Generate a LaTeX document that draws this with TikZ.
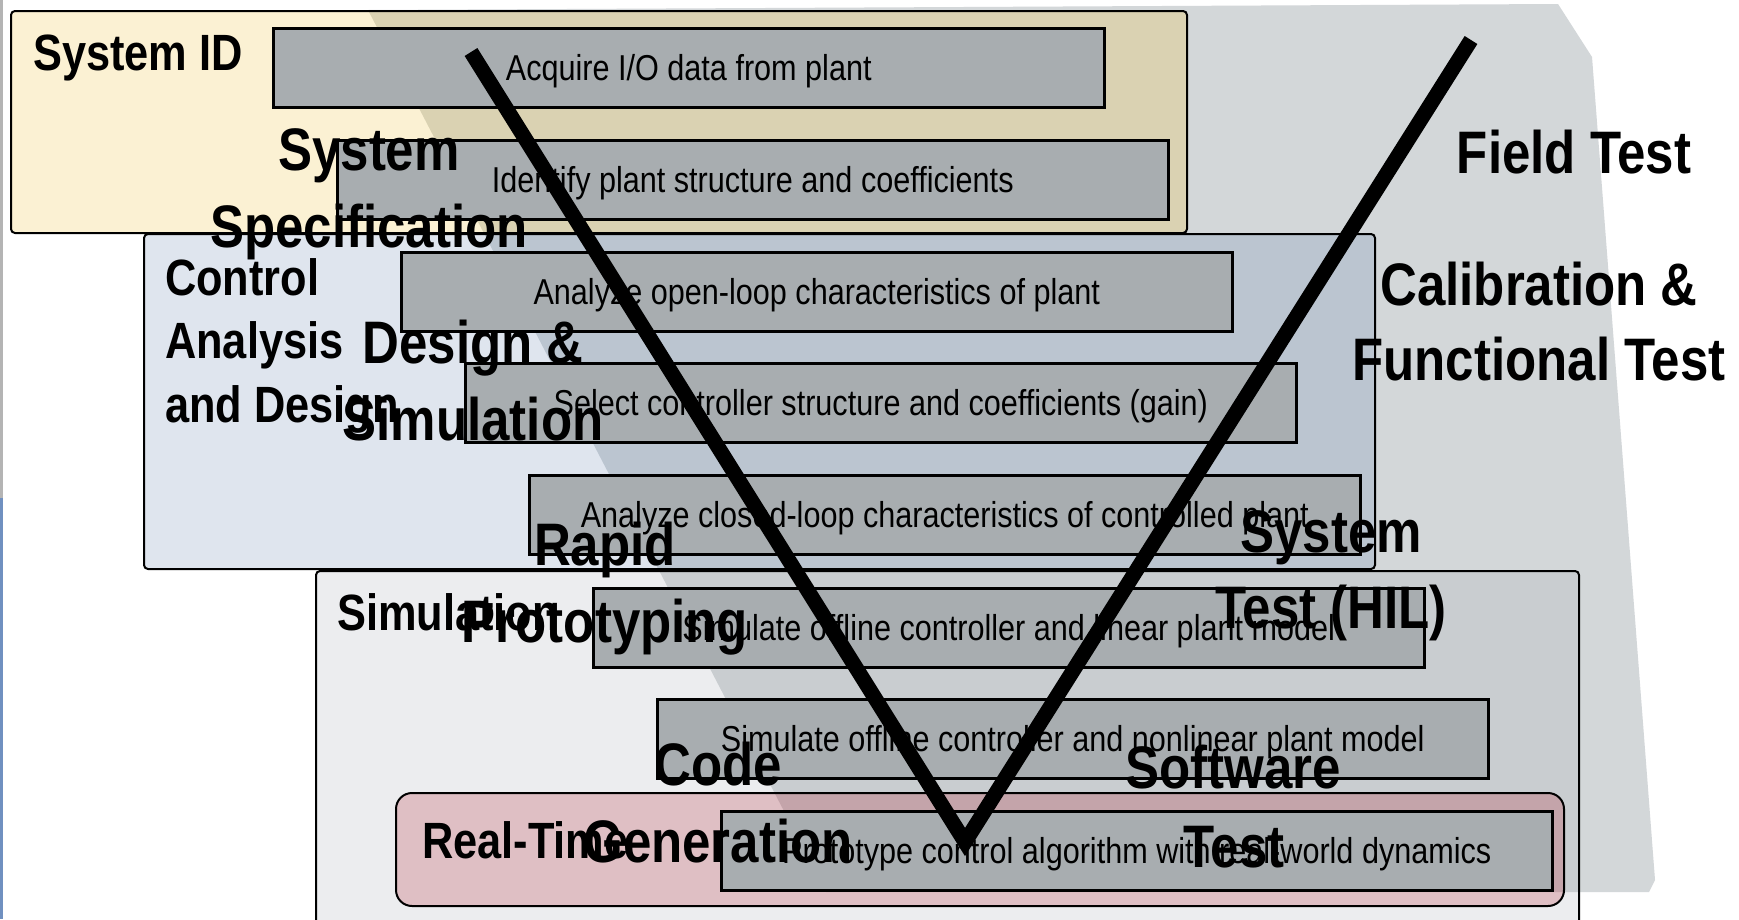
\documentclass[tikz,border=0pt]{standalone}
\usepackage{fontspec}
\setmainfont{Liberation Sans}[FakeStretch=0.85]
\definecolor{polyc}{HTML}{D3D7D9}
\definecolor{yel}{HTML}{FBF1D3}
\definecolor{yelD}{HTML}{DAD2B2}
\definecolor{blu}{HTML}{DFE5EE}
\definecolor{bluD}{HTML}{BBC5D0}
\definecolor{sim}{HTML}{ECEDEF}
\definecolor{simD}{HTML}{C9CDD0}
\definecolor{pnk}{HTML}{DFBFC4}
\definecolor{pnkD}{HTML}{C4A4AA}
\definecolor{taskc}{HTML}{A8ADB0}
\definecolor{edgegray}{HTML}{B4B4B4}
\definecolor{edgeblue}{HTML}{7090C0}
\begin{document}
\begin{tikzpicture}[x=1pt,y=-1pt,
  task/.style={draw=black, line width=2.5pt, fill=taskc, anchor=north west,
    minimum width=831pt, minimum height=79pt, inner sep=0pt,
    text height=25pt, text depth=0pt, font=\fontsize{36}{40}\selectfont},
  seclab/.style={anchor=base west, inner sep=0pt, font=\fontsize{51}{60}\selectfont\bfseries},
  vlab/.style={anchor=base, inner sep=0pt, font=\fontsize{60}{72}\selectfont\bfseries},
  secborder/.style={draw=black, line width=2pt}]
\useasboundingbox (0,0) rectangle (1739,919);
\fill[white] (0,0) rectangle (1739,919);
\def\vpoly{(368,10) -- (1558,4) -- (1592,57) -- (1655,880) -- (1649,892) -- (826,892) -- cycle}
% left screen edge
\draw[line width=2.5pt, edgegray] (1.25,0) -- (1.25,498);
\draw[line width=2.5pt, edgeblue] (1.25,498) -- (1.25,919);
% background gray shape
\fill[polyc] \vpoly;
% System ID box
\fill[yel, rounded corners=4pt] (11,11) rectangle (1187,233);
\begin{scope}\clip[rounded corners=4pt] (11,11) rectangle (1187,233); \fill[yelD] \vpoly; \end{scope}
\draw[secborder, rounded corners=4pt] (11,11) rectangle (1187,233);
% Control analysis box
\fill[blu, rounded corners=4pt] (144,234) rectangle (1375,569);
\begin{scope}\clip[rounded corners=4pt] (144,234) rectangle (1375,569); \fill[bluD] \vpoly; \end{scope}
\draw[secborder, rounded corners=4pt] (144,234) rectangle (1375,569);
% Simulation box
\fill[sim, rounded corners=4pt] (316,571) rectangle (1579,930);
\begin{scope}\clip[rounded corners=4pt] (316,571) rectangle (1579,930); \fill[simD] \vpoly; \end{scope}
\draw[secborder, rounded corners=4pt] (316,571) rectangle (1579,930);
% Real-time box
\fill[pnk, rounded corners=16pt] (396,793) rectangle (1564,906);
\begin{scope}\clip[rounded corners=16pt] (396,793) rectangle (1564,906); \fill[pnkD] \vpoly; \end{scope}
\draw[secborder, rounded corners=16pt] (396,793) rectangle (1564,906);
% task boxes
\node[task] (t1) at (272,27) {Acquire I/O data from plant};
\node[task] (t2) at (336,139) {Identify plant structure and coefficients};
\node[task] (t3) at (400,251) {Analyze open-loop characteristics of plant};
\node[task] (t4) at (464,362) {Select controller structure and coefficients (gain)};
\node[task] (t5) at (528,474) {Analyze closed-loop characteristics of controlled plant};
\node[task] (t6) at (592,587) {Simulate offline controller and linear plant model};
\node[task] (t7) at (656,698) {Simulate offline controller and nonlinear plant model};
\node[task] (t8) at (720,810) {Prototype control algorithm with real-world dynamics};
% section labels
\node[seclab] (lsysid) at (33,70) {System ID};
\node[seclab] (lcad1) at (165,295) {Control};
\node[seclab] (lcad2) at (165,358) {Analysis};
\node[seclab] (lcad3) at (165,422) {and Design};
\node[seclab] (lsim) at (337,630) {Simulation};
\node[seclab] (lrt) at (422,858) {Real-Time};
% V labels
\node[vlab] (vss1) at (369,170) {System};
\node[vlab] (vss2) at (369,247) {Specification};
\node[vlab] (vds1) at (473,363) {Design \&};
\node[vlab] (vds2) at (473,440) {Simulation};
\node[vlab] (vrp1) at (605,565) {Rapid};
\node[vlab] (vrp2) at (605,642) {Prototyping};
\node[vlab] (vcg1) at (718,785) {Code};
\node[vlab] (vcg2) at (718,862) {Generation};
\node[vlab] (vft) at (1574,173) {Field Test};
\node[vlab] (vcf1) at (1539,305) {Calibration \&};
\node[vlab] (vcf2) at (1539,380) {Functional Test};
\node[vlab] (vst1) at (1331,552) {System};
\node[vlab] (vst2) at (1331,628) {Test (HIL)};
\node[vlab] (vsw1) at (1233,788) {Software};
\node[vlab] (vsw2) at (1234,867) {Test};
% V line
\coordinate (vl) at (471,52);
\coordinate (vb) at (965,842);
\coordinate (vr) at (1471,40);
\draw[line width=15pt, miter limit=10] (vl) -- (vb) -- (vr);
\end{tikzpicture}
\end{document}
